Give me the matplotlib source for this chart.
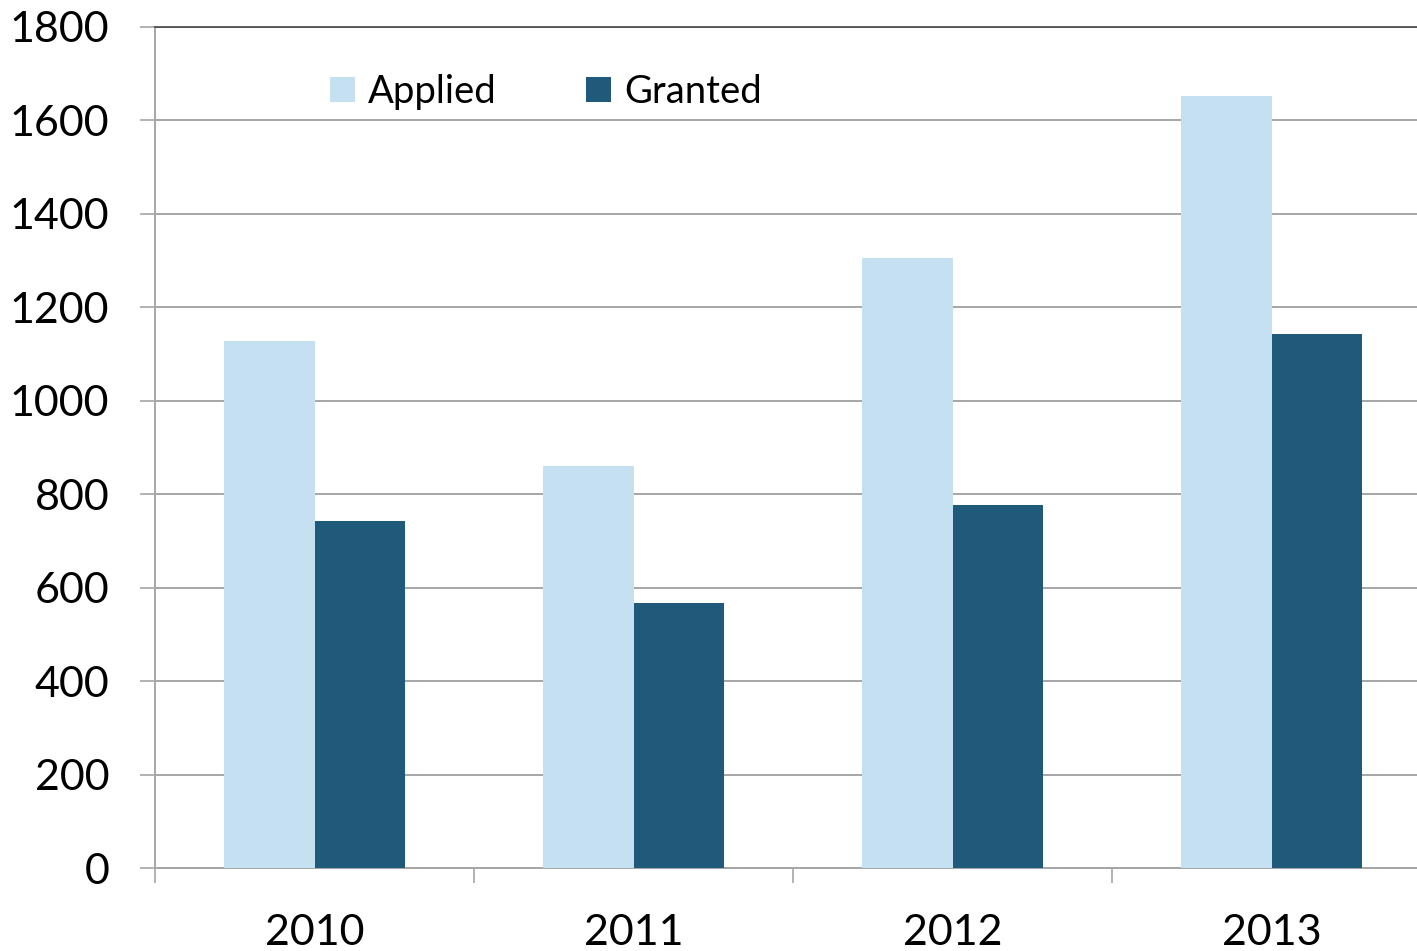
import numpy as np
import matplotlib.pyplot as plt
from matplotlib.patches import Patch

years = ["2010", "2011", "2012", "2013"]
applied = [1128, 860, 1306, 1652]
granted = [743, 567, 777, 1143]

light = "#C4E0F1"
dark = "#1F5A7B"
grid_col = "#A6A6A6"

plt.rcParams['font.family'] = ['Lato', 'DejaVu Sans']

fig = plt.figure(figsize=(14.17, 9.51), dpi=100)
ax = fig.add_axes([155 / 1417, 1 - 868 / 951, 1276 / 1417, 841 / 951])

x = np.arange(len(years))
w = 0.285
ax.bar(x - w / 2, applied, width=w, color=light, label="Applied", zorder=3)
ax.bar(x + w / 2, granted, width=w, color=dark, label="Granted", zorder=3)

ax.set_xlim(-0.5, len(years) - 0.5)
ax.set_ylim(0, 1800)
ax.set_yticks(np.arange(0, 1801, 200))
ax.yaxis.grid(True, color=grid_col, linewidth=1.4, zorder=0)

# category boundaries as major ticks, labels on minor ticks
ax.set_xticks(np.arange(-0.5, len(years), 1.0))
ax.set_xticklabels([])
ax.set_xticks(x, minor=True)
ax.set_xticklabels(years, minor=True)
ax.tick_params(axis='x', which='major', length=11, width=1.2, color=grid_col, direction='out')
ax.tick_params(axis='x', which='minor', length=0, pad=33, labelsize=31)
ax.tick_params(axis='y', length=11, width=1.2, color=grid_col, pad=22, labelsize=31)

for s in ['left', 'bottom']:
    ax.spines[s].set_color(grid_col)
    ax.spines[s].set_linewidth(1.4)
ax.spines['right'].set_visible(False)
ax.spines['top'].set_color("#444444")
ax.spines['top'].set_linewidth(1.2)

handles = [Patch(facecolor=light, label="Applied"), Patch(facecolor=dark, label="Granted")]
ax.legend(handles=handles, loc='upper left', bbox_to_anchor=(0.11, 0.985), ncol=2,
          frameon=False, fontsize=27.5, handlelength=0.65, handleheight=0.65,
          handletextpad=0.35, columnspacing=2.35)

fig.savefig("out.png", dpi=100)
